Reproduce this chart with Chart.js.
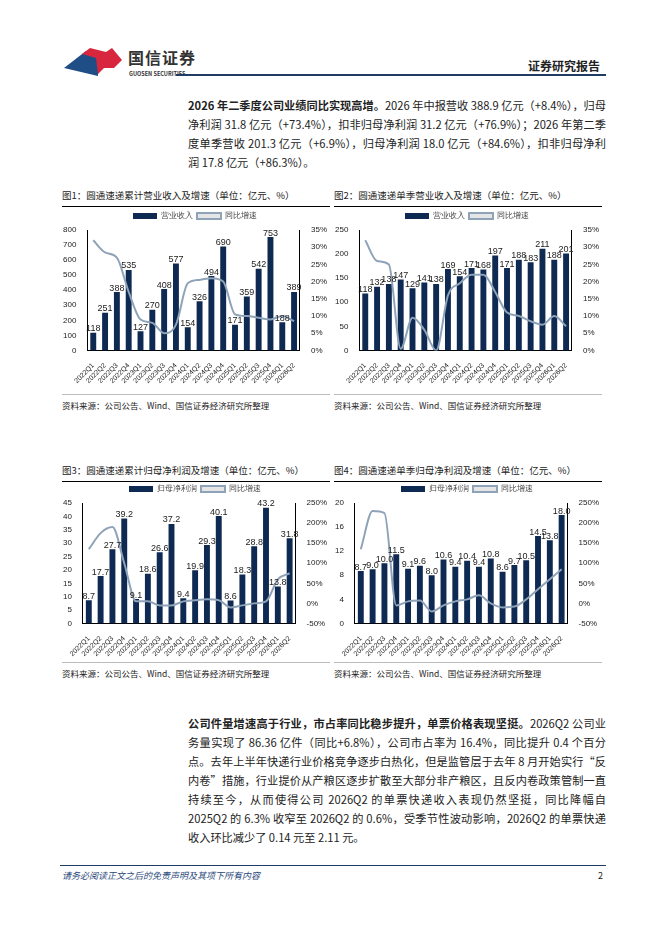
<!DOCTYPE html>
<html lang="zh">
<head>
<meta charset="UTF-8">
<title>圆通速递</title>
<script src="https://cdn.jsdelivr.net/npm/chart.js"></script>
<style>
  body { margin:0; width:662px; height:936px; position:relative; background:#fff;
         font-family:"Noto Sans CJK SC","Liberation Sans",sans-serif; color:#222; }
  .abs { position:absolute; }
  .para { left:188px; width:418px; font-size:11.2px; line-height:19px; text-align:justify; }
  .ctitle { font-size:9.5px; border-bottom:1px solid #000; padding-bottom:4px; width:268px; }
  .src { font-size:8.5px; border-top:1px solid #bbb; padding-top:4px; width:268px; }
  .box { width:272px; height:180px; }
</style>
</head>
<body>
<!-- header -->
<svg class="abs" style="left:64px;top:46px" width="60" height="34" viewBox="0 0 60 34">
  <polygon points="0,22 22,5 34,12 34,30" fill="#1f4e86"/>
  <polygon points="18,8 26,2 42,6 48,2 58,14 50,22 40,22 34,28 32,12" fill="#d7263d"/>
</svg>
<div class="abs" style="left:128px;top:45px;font-size:16px;font-weight:bold;color:#333;letter-spacing:1px">国信证券</div>
<div class="abs" style="left:129px;top:70px;font-size:5.5px;font-weight:bold;color:#333">GUOSEN SECURITIES</div>
<div class="abs" style="left:528px;top:57px;font-size:12px;font-weight:bold">证券研究报告</div>
<div class="abs" style="left:176px;top:74px;width:430px;height:2px;background:#1f3d63"></div>

<div class="abs para" style="top:96px"><b>2026 年二季度公司业绩同比实现高增。</b>2026 年中报营收 388.9 亿元（+8.4%），归母净利润 31.8 亿元（+73.4%），扣非归母净利润 31.2 亿元（+76.9%）；2026 年第二季度单季营收 201.3 亿元（+6.9%），归母净利润 18.0 亿元（+84.6%），扣非归母净利润 17.8 亿元（+86.3%）。</div>

<div class="abs ctitle" style="left:62px;top:188px">图1：圆通速递累计营业收入及增速（单位：亿元、%）</div>
<div class="abs ctitle" style="left:334px;top:188px">图2：圆通速递单季营业收入及增速（单位：亿元、%）</div>
<div class="abs box" style="left:60px;top:208px"><canvas id="c1"></canvas></div>
<div class="abs box" style="left:332px;top:208px"><canvas id="c2"></canvas></div>
<div class="abs src" style="left:62px;top:394px">资料来源：公司公告、Wind、国信证券经济研究所整理</div>
<div class="abs src" style="left:334px;top:394px">资料来源：公司公告、Wind、国信证券经济研究所整理</div>

<div class="abs ctitle" style="left:62px;top:463px">图3：圆通速递累计归母净利润及增速（单位：亿元、%）</div>
<div class="abs ctitle" style="left:334px;top:463px">图4：圆通速递单季归母净利润及增速（单位：亿元、%）</div>
<div class="abs box" style="left:60px;top:481px"><canvas id="c3"></canvas></div>
<div class="abs box" style="left:332px;top:481px"><canvas id="c4"></canvas></div>
<div class="abs src" style="left:62px;top:662px">资料来源：公司公告、Wind、国信证券经济研究所整理</div>
<div class="abs src" style="left:334px;top:662px">资料来源：公司公告、Wind、国信证券经济研究所整理</div>

<div class="abs para" style="top:714px"><b>公司件量增速高于行业，市占率同比稳步提升，单票价格表现坚挺。</b>2026Q2 公司业务量实现了 86.36 亿件（同比+6.8%），公司市占率为 16.4%，同比提升 0.4 个百分点。去年上半年快递行业价格竞争逐步白热化，但是监管层于去年 8 月开始实行“反内卷”措施，行业提价从产粮区逐步扩散至大部分非产粮区，且反内卷政策管制一直持续至今，从而使得公司 2026Q2 的单票快递收入表现仍然坚挺，同比降幅自 2025Q2 的 6.3% 收窄至 2026Q2 的 0.6%，受季节性波动影响，2026Q2 的单票快递收入环比减少了 0.14 元至 2.11 元。</div>

<div class="abs" style="left:60px;top:865px;width:546px;height:1px;background:#1f3d63"></div>
<div class="abs" style="left:62px;top:869px;font-size:9px;font-style:italic;color:#2b4a7a">请务必阅读正文之后的免责声明及其项下所有内容</div>
<div class="abs" style="left:598px;top:869px;font-size:9px">2</div>

<script>
const quarters = ['2022Q1','2022Q2','2022Q3','2022Q4','2023Q1','2023Q2','2023Q3','2023Q4',
  '2024Q1','2024Q2','2024Q3','2024Q4','2025Q1','2025Q2','2025Q3','2025Q4','2026Q1','2026Q2'];

const revCum = [118,251,388,535,127,270,408,577,154,326,494,690,171,359,542,753,188,389];
const revCumYoy = [32,28.5,27,17,9,8,5,7.5,19.5,20.5,21,20,10.5,10,9.5,9,10,8.5];
const revQ = [118,132,138,147,129,141,138,169,154,171,168,197,171,188,183,211,188,201];
const revQYoy = [32,26,25,0.5,9.5,6,0,16,19.5,22,22,17,11,10,8.5,7.5,10,7];
const npCum = [8.7,17.7,27.7,39.2,9.1,18.6,26.6,37.2,9.4,19.9,29.3,40.1,8.6,18.3,28.8,43.2,13.8,31.8];
const npCumYoy = [135,175,190,100,5,5,-5,-5,5,8,10,8,-10,-5,0,5,60,75];
const npQ = [8.7,9.0,10.0,11.5,9.1,9.6,8.0,10.6,9.4,10.4,9.4,10.8,8.6,9.7,10.5,14.5,13.8,18.0];
const npQYoy = [135,230,225,-5,5,7,-20,-5,5,10,20,0,-10,-8,10,35,60,85];

const NAVY = '#0f2a52', GREY = '#8fa3b8';

const barLabels = {
  id: 'barLabels',
  afterDatasetsDraw(chart, args, opts) {
    const ctx = chart.ctx;
    const meta = chart.getDatasetMeta(0);
    ctx.save();
    ctx.font = '9px "Liberation Sans", sans-serif';
    ctx.fillStyle = '#222';
    ctx.textAlign = 'center';
    meta.data.forEach((el, i) => {
      const v = chart.data.datasets[0].data[i];
      ctx.fillText(opts.dec ? v.toFixed(1) : String(v), el.x, el.y - 4);
    });
    ctx.restore();
  }
};

function makeChart(id, bars, line, barName, yl, yr, dec) {
  new Chart(document.getElementById(id), {
    data: {
      labels: quarters,
      datasets: [
        { type: 'bar', label: barName, data: bars, backgroundColor: NAVY, yAxisID: 'y',
          barPercentage: 0.5, categoryPercentage: 1, order: 2 },
        { type: 'line', label: '同比增速', data: line, borderColor: GREY, borderWidth: 2,
          pointRadius: 0, cubicInterpolationMode: 'monotone', yAxisID: 'y1', order: 1 }
      ]
    },
    options: {
      responsive: true, maintainAspectRatio: false, animation: false,
      layout: { padding: { top: 0, right: 2 } },
      plugins: {
        legend: { position: 'top',
                  labels: { boxWidth: 24, boxHeight: 6, font: { size: 8 }, color: '#444', padding: 4,
                            sort: (a, b) => a.datasetIndex - b.datasetIndex } },
        tooltip: { enabled: false },
        barLabels: { dec: dec }
      },
      scales: {
        x: { grid: { display: false }, border: { color: '#000' },
             ticks: { font: { size: 7 }, color: '#222', maxRotation: 45, minRotation: 45, autoSkip: false } },
        y: { min: yl[0], max: yl[1], ticks: { stepSize: yl[2], font: { size: 8 }, color: '#222' },
             grid: { display: false }, border: { color: '#000' } },
        y1: { position: 'right', min: yr[0], max: yr[1],
              ticks: { stepSize: yr[2], font: { size: 8 }, color: '#222', callback: v => v + '%' },
              grid: { display: false }, border: { color: '#000' } }
      }
    },
    plugins: [barLabels]
  });
}

makeChart('c1', revCum, revCumYoy, '营业收入', [0, 800, 100], [0, 35, 5], false);
makeChart('c2', revQ, revQYoy, '营业收入', [0, 250, 50], [0, 35, 5], false);
makeChart('c3', npCum, npCumYoy, '归母净利润', [0, 45, 5], [-50, 250, 50], true);
makeChart('c4', npQ, npQYoy, '归母净利润', [0, 20, 2], [-50, 250, 50], true);
</script>
</body>
</html>
